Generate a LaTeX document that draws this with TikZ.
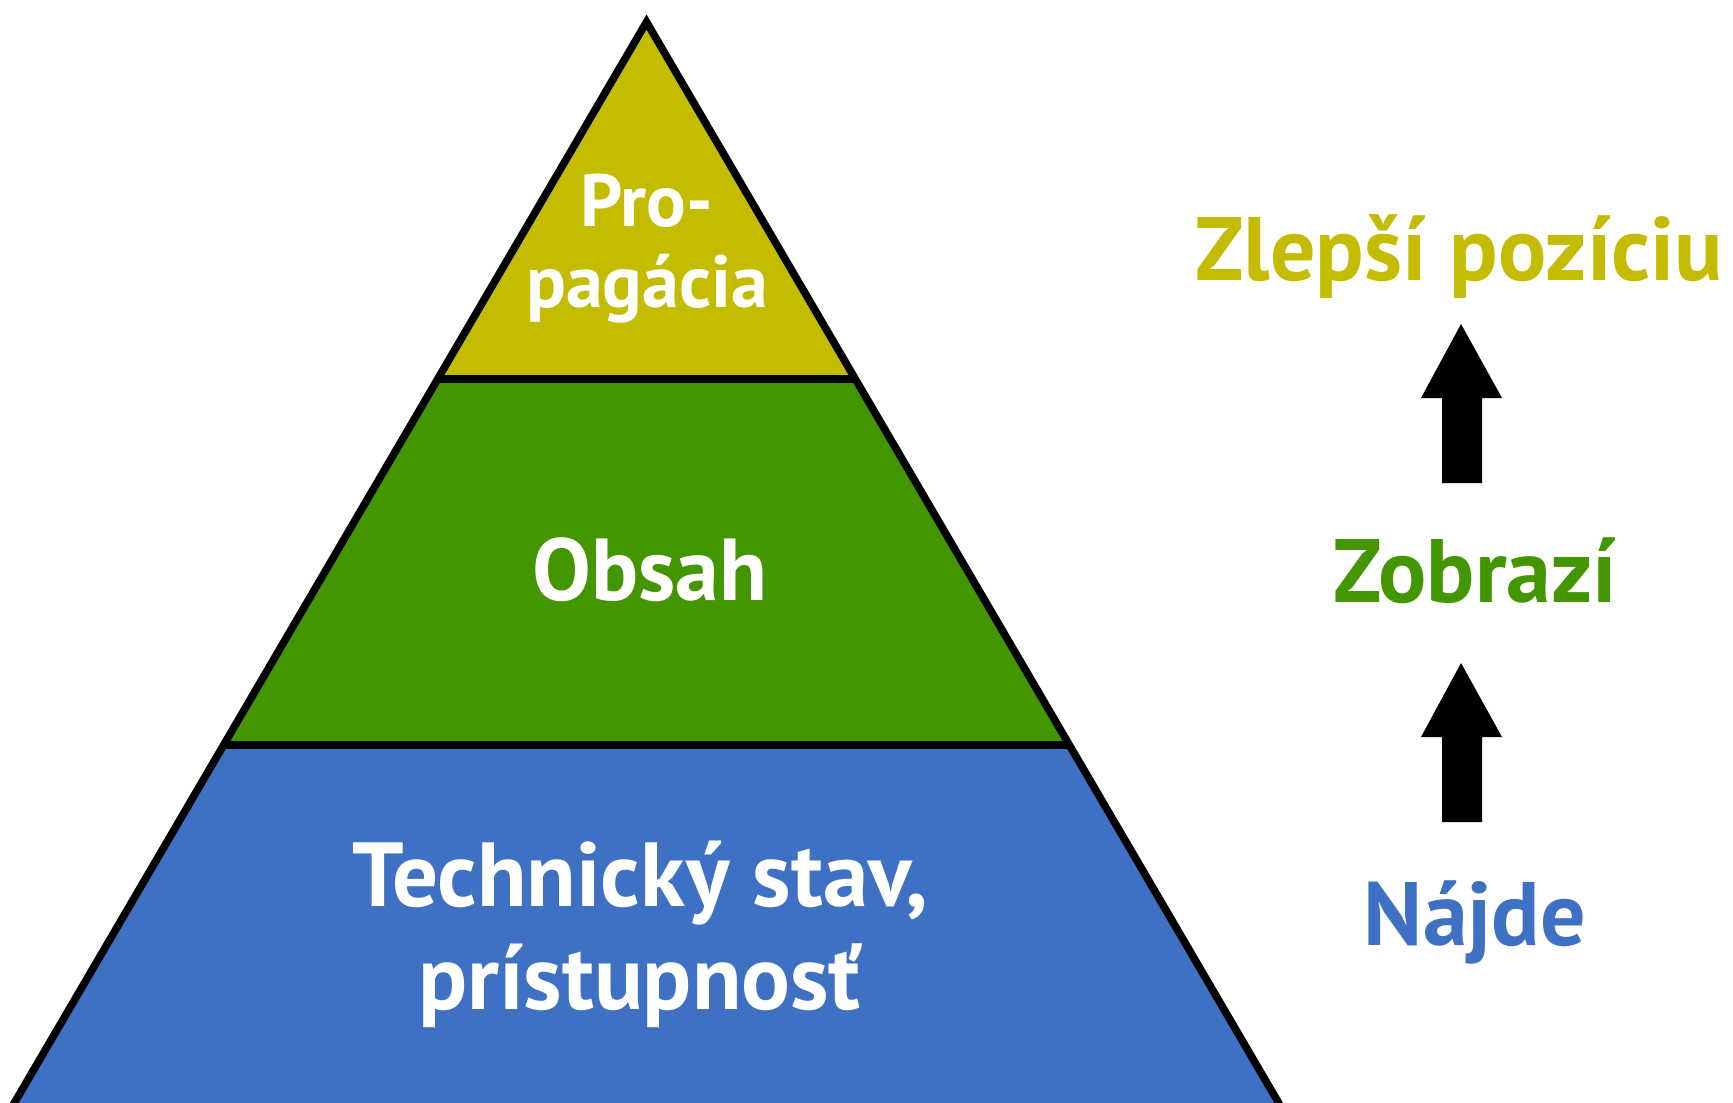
\documentclass[tikz,border=0pt]{standalone}
\usepackage{fontspec}
\setmainfont{PT Sans}
\usetikzlibrary{calc}
\definecolor{cyel}{RGB}{195,188,0}
\definecolor{cgrn}{RGB}{67,150,0}
\definecolor{cblu}{RGB}{62,113,196}
\begin{document}
\begin{tikzpicture}[x=0.5pt,y=-0.5pt,
  edge/.style={line width=3.8pt,line join=miter},
  inlbl/.style={text=white,inner sep=0pt,anchor=base,align=center},
  sidelbl/.style={font=\bfseries\fontsize{45}{50}\selectfont,inner sep=0pt,anchor=base},
  blockarrow/.style={fill=black}]
\useasboundingbox (0,0) rectangle (1733,1102);
\clip (0,0) rectangle (1733,1102);
% pyramid corners
\coordinate (apex) at (646.5,22);
\coordinate (bl) at (9,1112);
\coordinate (br) at (1284,1112);
\coordinate (yl) at ($(apex)!0.3275!(bl)$);
\coordinate (yr) at ($(apex)!0.3275!(br)$);
\coordinate (gl) at ($(apex)!0.6633!(bl)$);
\coordinate (gr) at ($(apex)!0.6633!(br)$);
\fill[cyel] (apex) -- (yr) -- (yl) -- cycle;
\fill[cgrn] (yl) -- (yr) -- (gr) -- (gl) -- cycle;
\fill[cblu] (gl) -- (gr) -- (br) -- (bl) -- cycle;
\draw[edge] (bl) -- (apex) -- (br) -- cycle;
\draw[edge] (yl) -- (yr);
\draw[edge] (gl) -- (gr);
% labels inside
\node[inlbl,font=\bfseries\fontsize{37}{40.5}\selectfont] (prop) at (647,307) {Pro-\\pagácia};
\node[inlbl,font=\bfseries\fontsize{44}{50}\selectfont] (obs) at (650,600) {Obsah};
\node[inlbl,font=\bfseries\fontsize{45.5}{51.5}\selectfont] (tech) at (640,1009) {Technický stav,\\prístupnosť};
% right labels
\node[sidelbl,text=cyel] (zlep) at (1459,280) {Zlepší pozíciu};
\node[sidelbl,text=cgrn] (zobr) at (1475,602) {Zobrazí};
\node[sidelbl,text=cblu] (najd) at (1475,945) {Nájde};
% block arrows
\fill[blockarrow] (1461,324) -- (1502,398) -- (1482,398) -- (1482,483) -- (1442,483) -- (1442,398) -- (1421,398) -- cycle;
\fill[blockarrow] (1461,663) -- (1502,737) -- (1482,737) -- (1482,822) -- (1442,822) -- (1442,737) -- (1421,737) -- cycle;
\end{tikzpicture}
\end{document}
